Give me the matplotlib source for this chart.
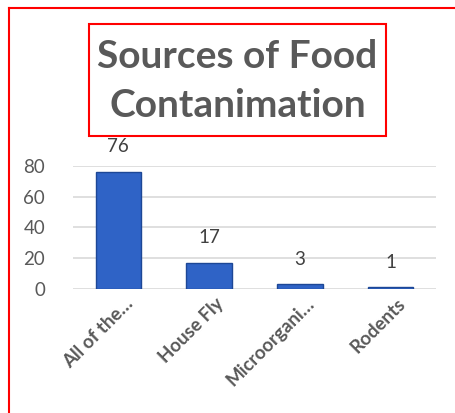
import matplotlib
matplotlib.use("Agg")
import matplotlib.pyplot as plt
from matplotlib.patches import Rectangle
from matplotlib.lines import Line2D
import matplotlib.transforms as mtransforms

categories = ["All of the…", "House Fly", "Microorgani…", "Rodents"]
values = [76, 17, 3, 1]
yticks = [0, 20, 40, 60, 80]
title = "Sources of Food\nContanimation"

FONT = ["Lato", "DejaVu Sans"]
GRAY = "#595959"

fig = plt.figure(figsize=(4.56, 4.13), dpi=100)
fig.patch.set_facecolor("white")

ax = fig.add_axes([73/456, 124/413, 363/456, 123.3/413])
x = list(range(len(categories)))
bars = ax.bar(x, values, width=0.5, color="#2F63C6", edgecolor="#1D4796",
              linewidth=1.0, zorder=3)

ax.set_xlim(-0.5, len(categories) - 0.5)
ax.set_ylim(0, 80)
ax.set_yticks(yticks)
ax.set_yticklabels([str(t) for t in yticks], fontsize=13.5, color=GRAY, family=FONT)
ax.tick_params(axis="y", length=0, pad=20)
ax.tick_params(axis="x", length=0, labelbottom=False)
ax.yaxis.grid(True, color="#D9D9D9", linewidth=1.2, zorder=0)
ax.set_axisbelow(True)
for s in ax.spines.values():
    s.set_visible(False)

for xi, v in zip(x, values):
    ax.annotate(str(v), (xi, v), xytext=(0, 18), textcoords="offset points",
                ha="center", va="center", fontsize=13.5, color="#404040",
                family=FONT, annotation_clip=False)

trans = mtransforms.blended_transform_factory(ax.transData, ax.transAxes)
offset = mtransforms.ScaledTranslation(12/100, -12/100, fig.dpi_scale_trans)
for xi, lab in zip(x, categories):
    ax.text(xi, 0, lab, transform=trans + offset, rotation=45,
            rotation_mode="anchor", ha="right", va="center",
            fontsize=13.5, fontweight="bold", color=GRAY, family=FONT)

# title box
fig.text(237.5/456, 1 - 81/413, title, ha="center", va="center",
         fontsize=28, fontweight="bold", color=GRAY, family=FONT,
         linespacing=1.5)
fig.patches.append(Rectangle((89/456, 1 - 136/413), (386-89)/456, (136-24)/413,
                             transform=fig.transFigure, fill=False,
                             edgecolor="#FF0000", linewidth=1.5))
# outer border (left and top edges)
fig.lines.append(Line2D([9/456, 9/456], [0, 1 - 8/413], transform=fig.transFigure,
                        color="#FF0000", linewidth=1.5))
fig.lines.append(Line2D([9/456, 1], [1 - 8/413, 1 - 8/413], transform=fig.transFigure,
                        color="#FF0000", linewidth=1.5))

fig.savefig("out.png", dpi=100)
